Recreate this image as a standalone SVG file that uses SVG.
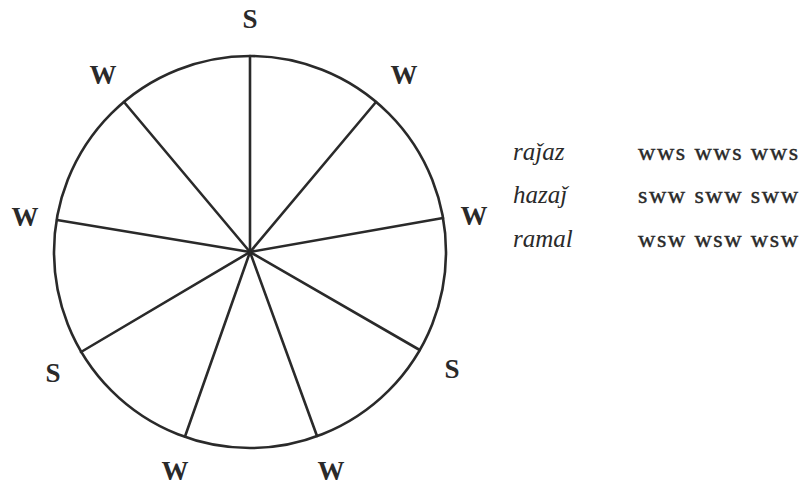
<svg xmlns="http://www.w3.org/2000/svg" width="812" height="487" viewBox="0 0 812 487">
<style>
.ln{stroke:#2a2a2a;stroke-width:2.6;fill:none;stroke-linecap:round}
.lab{font-family:"Liberation Serif",serif;font-size:27px;font-weight:bold;fill:#2a2a2a;text-anchor:middle}
.it{font-family:"Liberation Serif",serif;font-size:25px;font-style:italic;fill:#2a2a2a}
.pat{font-family:"Liberation Serif",serif;font-size:24px;fill:#2a2a2a;stroke:#2a2a2a;stroke-width:0.4;letter-spacing:1.6px}
</style>
<rect width="812" height="487" fill="#fff"/>
<g id="wheel">
<circle class="ln" cx="250" cy="252" r="196"/>
</g>
<g id="spokes">
<line class="ln" x1="250" y1="252" x2="250" y2="56"/>
<line class="ln" x1="250" y1="252" x2="376" y2="102"/>
<line class="ln" x1="250" y1="252" x2="443" y2="218"/>
<line class="ln" x1="250" y1="252" x2="419.7" y2="350"/>
<line class="ln" x1="250" y1="252" x2="317" y2="436"/>
<line class="ln" x1="250" y1="252" x2="185" y2="436.5"/>
<line class="ln" x1="250" y1="252" x2="81" y2="352"/>
<line class="ln" x1="250" y1="252" x2="57" y2="220"/>
<line class="ln" x1="250" y1="252" x2="124" y2="102"/>
</g>
<g id="labels">
<text class="lab" x="250" y="28">S</text>
<text class="lab" x="404" y="84">W</text>
<text class="lab" x="474" y="225">W</text>
<text class="lab" x="452" y="378">S</text>
<text class="lab" x="331" y="480">W</text>
<text class="lab" x="175" y="480">W</text>
<text class="lab" x="53" y="382">S</text>
<text class="lab" x="25" y="226">W</text>
<text class="lab" x="103" y="84">W</text>
</g>
<g id="meters">
<text class="it" x="513" y="160">raǰaz</text>
<text class="pat" x="638" y="160">wws wws wws</text>
<text class="it" x="513" y="203">hazaǰ</text>
<text class="pat" x="638" y="203">sww sww sww</text>
<text class="it" x="513" y="247">ramal</text>
<text class="pat" x="638" y="247">wsw wsw wsw</text>
</g>
</svg>
